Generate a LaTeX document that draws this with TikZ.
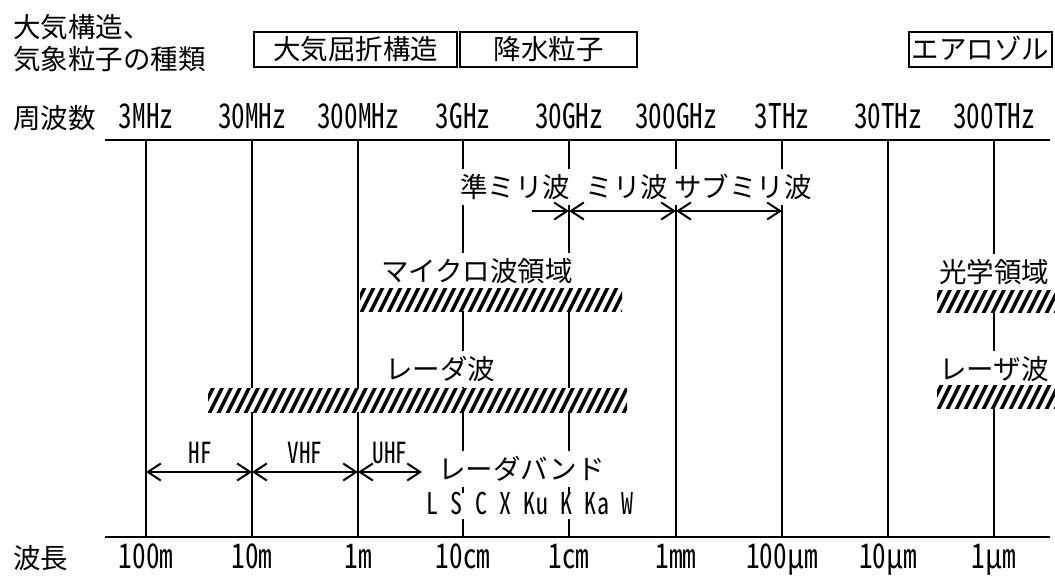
\documentclass[tikz,border=0pt]{standalone}
\usepackage{fontspec}
\usetikzlibrary{arrows.meta}
\newfontfamily\jpf{Noto Sans CJK JP}
\newfontfamily\latf[RawFeature=+hwid, FakeStretch=0.8]{Noto Sans CJK JP}
\newcommand\bx[1]{\makebox[12.2pt][c]{#1}}
\begin{document}
\begin{tikzpicture}[x=1pt,y=-1pt,
  jp/.style={font=\jpf\fontsize{27.5}{30}\selectfont, inner sep=0pt, text height=24pt, text depth=4pt},
  jpw/.style={jp, fill=white, inner xsep=1pt, inner ysep=4pt},
  lab/.style={font=\latf\fontsize{34}{36}\selectfont, inner sep=0pt, text height=18.5pt, text depth=0pt},
  smalllab/.style={font=\latf\fontsize{29}{31}\selectfont, inner sep=0pt, text height=16pt, text depth=0pt},
  box/.style={draw, line width=1.3pt, inner sep=0pt, minimum height=35pt, font=\jpf\fontsize{27.5}{30}\selectfont, text height=24pt, text depth=4pt},
  axis/.style={line width=2.6pt},
  vline/.style={line width=2pt},
  tip/.tip={Straight Barb[length=13pt,width=17pt]},
  arr/.style={line width=2pt, tip-tip},
  rarr/.style={line width=2pt, -tip},
  hatch/.style={inner sep=0pt, fill=white, path picture={
     \foreach \i in {-5,...,50}{\draw[line width=3.4pt] ([xshift=\i*9pt,yshift=-4pt]path picture bounding box.south west) -- ++(16pt,32pt);}}}
]
\useasboundingbox[fill=white] (0,0) rectangle (1055,578);

% axis coordinates
\foreach \x [count=\i] in {146,252,358,463,569,676,782,888,994}{
  \coordinate (t\i) at (\x,140);
  \coordinate (b\i) at (\x,537);
}
\coordinate (tl) at (105,140); \coordinate (tr) at (1050,140);
\coordinate (bl) at (105,537); \coordinate (br) at (1050,537);

% vertical lines
\foreach \i in {1,...,9}{ \draw[vline] (t\i) -- (b\i); }
\draw[axis] (tl) -- (tr);
\draw[axis] (bl) -- (br);

% top-left captions
\node[jp, anchor=west] (cap1) at (13,28) {大気構造、};
\node[jp, anchor=west] (cap2) at (13,60) {気象粒子の種類};

% boxes
\node[box, minimum width=203pt] (bxa) at (355.5,49.5) {大気屈折構造};
\node[box, minimum width=177pt] (bxb) at (548.5,49.5) {降水粒子};
\node[box, minimum width=143pt] (bxc) at (980.5,49.5) {エアロゾル};

% frequency row
\node[jp, anchor=west] (freq) at (13,118) {周波数};
\foreach \t [count=\i] in {3MHz,30MHz,300MHz,3GHz,30GHz,300GHz,3THz,30THz,300THz}{
  \node[lab] (f\i) at (t\i |- 0,119) {\t};
}

% wavelength row
\node[jp, anchor=west] (wl) at (13,558) {波長};
\foreach \t [count=\i] in {100m,10m,1m,10cm,1cm,1mm,100µm,10µm,1µm}{
  \node[lab] (w\i) at (b\i |- 0,559) {\t};
}

% millimetre wave labels and arrows
\node[jpw] (qmm) at (515,187) {準ミリ波};
\node[jpw] (mm) at (627,187) {ミリ波};
\node[jpw] (smm) at (743,187) {サブミリ波};
\coordinate (a0) at (532,211);
\draw[rarr] (a0) -- (t5 |- a0);
\draw[arr] (t5 |- a0) -- (t6 |- a0);
\draw[arr] (t6 |- a0) -- (t7 |- a0);

% microwave / optical
\node[jpw] (mwl) at (477,271) {マイクロ波領域};
\node[hatch, minimum width=262pt, minimum height=23pt] (mwb) at (491,299.5) {};
\node[jpw] (opl) at (994,272) {光学領域};
\node[hatch, minimum width=118pt, minimum height=22pt] (opb) at (996,301) {};

% radar / laser
\node[jpw] (rdl) at (440,369) {レーダ波};
\node[hatch, minimum width=419pt, minimum height=24pt] (rdb) at (417.5,400) {};
\node[jpw] (lsl) at (994,369) {レーザ波};
\node[hatch, minimum width=118pt, minimum height=23pt] (lsb) at (996,396.5) {};

% HF / VHF / UHF
\node[smalllab] (hf) at (200,455) {HF};
\node[smalllab] (vhf) at (305,455) {VHF};
\node[smalllab] (uhf) at (390,455) {UHF};
\coordinate (a1) at (146,472);
\coordinate (uend) at (422,472);
\draw[arr] (t1 |- a1) -- (t2 |- a1);
\draw[arr] (t2 |- a1) -- (t3 |- a1);
\draw[arr] (t3 |- a1) -- (uend);

% radar bands
\node[jpw, anchor=west] (rband) at (437,469) {レーダバンド};
\node[fill=white, inner xsep=2pt, inner ysep=0pt, minimum height=26pt, text height=17pt, text depth=0pt,
      font=\latf\fontsize{30}{32}\selectfont, anchor=west] (bands) at (424,506)
  {\bx{L}\bx{}\bx{S}\bx{}\bx{C}\bx{}\bx{X}\bx{}\bx{K}\bx{u}\bx{}\bx{K}\bx{}\bx{K}\bx{a}\bx{}\bx{W}};
\end{tikzpicture}
\end{document}
